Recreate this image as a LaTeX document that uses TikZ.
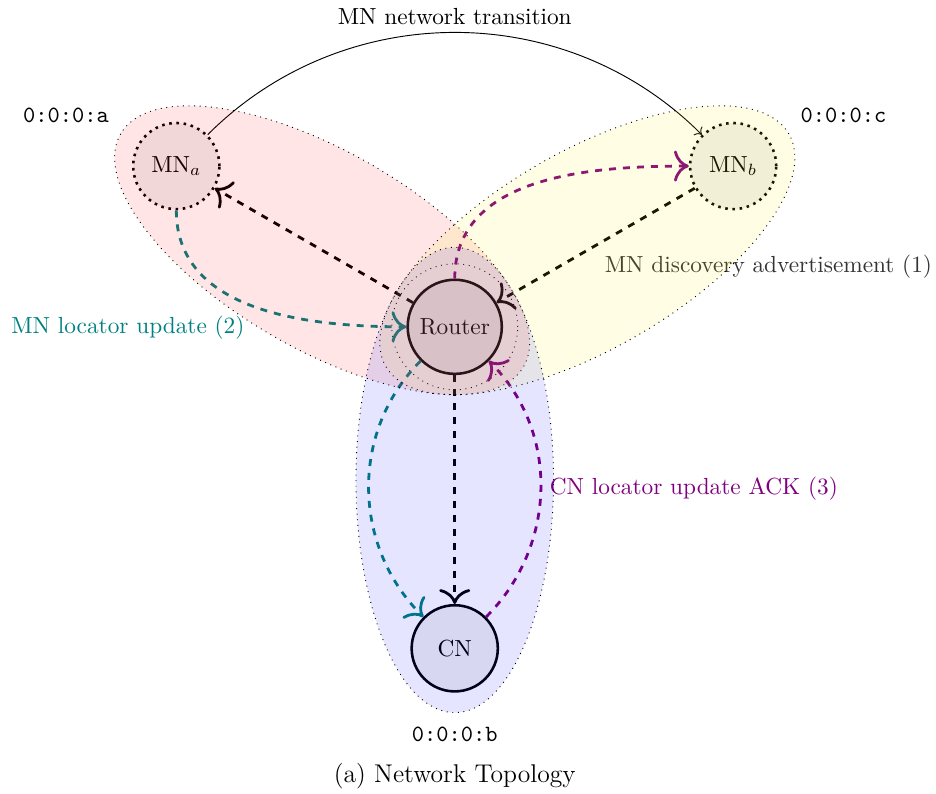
\documentclass[tikz,border=0pt]{standalone}
\usetikzlibrary{positioning,arrows.meta}
\tikzset{
  host/.style={circle, draw, line width=1.1pt, fill=black!6, minimum size=1.3cm},
  mobile/.style={host, dotted},
  zone/.style={draw, dotted, fill opacity=0.1},
  msg/.style={-{To[scale=1.5]}, very thick, dashed},
  addr/.style={font=\ttfamily},
}
\begin{document}
\begin{tikzpicture}
  \useasboundingbox (-6.86,-7.04) rectangle (7.26,4.93);
  % hosts
  \node[host, minimum size=1.42cm] (router) at (0,0) {Router};
  \node[mobile] (mna) at (150:4.85) {MN$_a$};
  \node[mobile] (mnb) at (30:4.85) {MN$_b$};
  \node[host] (cn) at (270:4.85) {CN};
  \draw[dotted] (router) circle (0.95);
  % addresses
  \node[addr, above left=0.05cm and 0.42cm of mna] (addra) {0:0:0:a};
  \node[addr, above right=0.05cm and 0.42cm of mnb] (addrc) {0:0:0:c};
  \node[addr, below=0.4cm of cn] (addrb) {0:0:0:b};
  % messages
  \draw[msg] (mnb) -- node[pos=0.5, below right, text=black!80] (advlabel) {MN discovery advertisement (1)} (router);
  \draw[msg] (router) -- (mna);
  \draw[msg] (router) -- (cn);
  \draw[msg, teal] (mna) to[out=270, in=180] node[pos=0.5, below left] (loclabel) {MN locator update (2)} (router);
  \draw[msg, teal] (router) to[out=225, in=135] (cn);
  \draw[msg, violet] (router) to[out=90, in=180] (mnb);
  \draw[msg, violet] (cn) to[out=45, in=-45] node[pos=0.5, right] (acklabel) {CN locator update ACK (3)} (router);
  \draw[->] (mna) to[out=45, in=135] node[above] (transit) {MN network transition} (mnb);
  % zones
  \coordinate (za) at (150:2.31);
  \coordinate (zb) at (30:2.31);
  \coordinate (zc) at (270:2.31);
  \draw[zone, fill=red, rotate around={150:(za)}] (za) ellipse (3.51 and 1.49);
  \draw[zone, fill=yellow, rotate around={30:(zb)}] (zb) ellipse (3.51 and 1.49);
  \draw[zone, fill=blue] (zc) ellipse (1.49 and 3.51);
  % caption
  \node[below=0.07cm of addrb, font=\fontsize{11}{13.6}\selectfont] (caption) {(a) Network Topology};
\end{tikzpicture}
\end{document}
